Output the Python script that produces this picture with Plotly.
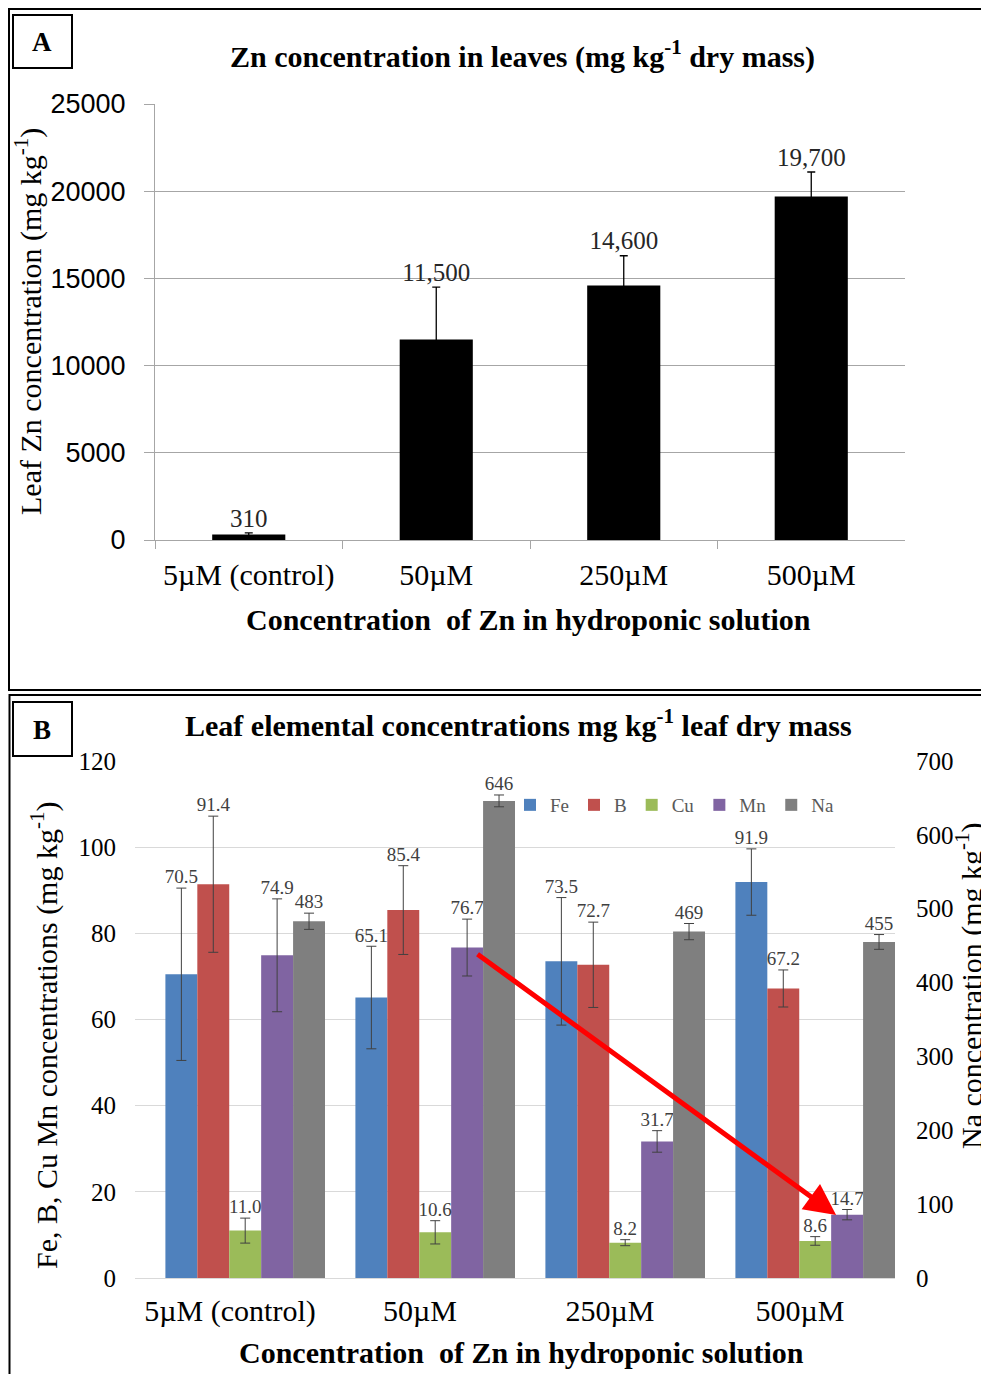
import plotly.graph_objects as go

# ---------------- data ----------------
categories = ["5µM (control)", "50µM", "250µM", "500µM"]

# Panel A: leaf Zn
zn_leaf = [310, 11500, 14600, 19700]
zn_err = [100, 3000, 1700, 1400]
zn_labels = ["310", "11,500", "14,600", "19,700"]

# Panel B: leaf elements (Fe, B, Cu, Mn on left axis; Na on right axis)
elements = ["Fe", "B", "Cu", "Mn", "Na"]
fe = [70.5, 65.1, 73.5, 91.9]
fe_err = [20.0, 11.9, 14.8, 7.7]
b = [91.4, 85.4, 72.7, 67.2]
b_err = [15.8, 10.3, 9.9, 4.3]
cu = [11.0, 10.6, 8.2, 8.6]
cu_err = [2.9, 2.7, 0.7, 1.0]
mn = [74.9, 76.7, 31.7, 14.7]
mn_err = [13.1, 6.6, 2.5, 1.2]
na = [483, 646, 469, 455]
na_err = [11, 8, 11, 10]

colors = {"Fe": "#4F81BD", "B": "#C0504D", "Cu": "#9BBB59", "Mn": "#8064A2", "Na": "#7F7F7F"}

W, H = 989, 1374
OFF = 8  # page body margin: the figure div starts 8px in from the window corner
SERIF = "Liberation Serif, Times New Roman, serif"
SANS = "Liberation Sans, Arial, sans-serif"


def px_x(p):
    return (p - OFF) / W


def px_y(p):
    return 1 - (p - OFF) / H


fig = go.Figure()

# ---------------- Panel A ----------------
fig.add_trace(go.Bar(
    x=categories, y=zn_leaf, width=0.39,
    marker=dict(color="black", line=dict(width=0)),
    error_y=dict(type="data", array=zn_err, color="black", thickness=1.3, width=4),
    xaxis="x", yaxis="y", showlegend=False, hoverinfo="x+y",
))
fig.add_trace(go.Scatter(
    x=categories, y=[v + e for v, e in zip(zn_leaf, zn_err)],
    mode="text", text=zn_labels, textposition="top center",
    textfont=dict(family=SERIF, size=25, color="#262626"),
    xaxis="x", yaxis="y", showlegend=False, hoverinfo="skip",
))

# ---------------- Panel B ----------------
series = [
    ("Fe", fe, fe_err, "y2"),
    ("B", b, b_err, "y2"),
    ("Cu", cu, cu_err, "y2"),
    ("Mn", mn, mn_err, "y2"),
    ("Na", na, na_err, "y3"),
]
bar_w = 0.168
start = 0.5 - bar_w * len(series)   # groups end at the right edge of each category slot
xs = list(range(len(categories)))
for i, (name, vals, errs, yax) in enumerate(series):
    off = start + i * bar_w
    fig.add_trace(go.Bar(
        name=name, x=xs, y=vals, width=bar_w, offset=off,
        marker=dict(color=colors[name], line=dict(width=0)),
        error_y=dict(type="data", array=errs, color="#404040", thickness=1, width=5),
        xaxis="x2", yaxis=yax, showlegend=True,
    ))
for i, (name, vals, errs, yax) in enumerate(series):
    off = start + i * bar_w
    fmt = "{:.0f}" if name == "Na" else "{:.1f}"
    fig.add_trace(go.Scatter(
        x=[x + off + bar_w / 2 for x in xs],
        y=[v + e for v, e in zip(vals, errs)],
        mode="text", text=[fmt.format(v) for v in vals], textposition="top center",
        textfont=dict(family=SERIF, size=19, color="#404040"),
        xaxis="x2", yaxis=yax, showlegend=False, hoverinfo="skip",
    ))

# ---------------- layout ----------------
grid_a = "#A6A6A6"
grid_b = "#D9D9D9"

layout = dict(
    width=W, height=H, autosize=False,
    margin=dict(l=0, r=0, t=0, b=0, autoexpand=False),
    paper_bgcolor="white", plot_bgcolor="white",
    barmode="overlay",
    font=dict(family=SERIF, color="black"),
    xaxis=dict(
        domain=[px_x(155), px_x(905)], anchor="y",
        type="category", tickson="boundaries",
        ticks="outside", ticklen=8, tickcolor=grid_a, tickwidth=1,
        showline=True, linecolor=grid_a, linewidth=1,
        showgrid=False,
        tickfont=dict(family=SERIF, size=30, color="black"),
        ticklabelstandoff=8,
        range=[-0.5, 3.5], automargin=False,
    ),
    yaxis=dict(
        domain=[px_y(540), px_y(104)], anchor="x",
        range=[0, 25000], dtick=5000, tickformat="d",
        ticks="outside", ticklen=10, tickcolor=grid_a, tickwidth=1,
        showline=True, linecolor=grid_a, linewidth=1,
        showgrid=True, gridcolor=grid_a, gridwidth=1,
        zeroline=False,
        tickfont=dict(family=SANS, size=27, color="black"),
        ticklabelstandoff=13, automargin=False,
    ),
    xaxis2=dict(
        domain=[px_x(135), px_x(895)], anchor="y2",
        range=[-0.5, 3.5], tickvals=xs, ticktext=categories,
        ticks="", showline=False, showgrid=False, zeroline=False,
        tickfont=dict(family=SERIF, size=30, color="black"),
        ticklabelstandoff=12, automargin=False,
    ),
    yaxis2=dict(
        domain=[px_y(1278), px_y(761)], anchor="x2",
        range=[0, 120], dtick=20,
        ticks="", showline=False,
        showgrid=True, gridcolor=grid_b, gridwidth=1,
        zeroline=True, zerolinecolor=grid_b, zerolinewidth=1,
        tickfont=dict(family=SERIF, size=25, color="black"),
        ticklabelstandoff=18, automargin=False,
    ),
    yaxis3=dict(
        overlaying="y2", side="right", anchor="x2",
        range=[0, 700], dtick=100,
        ticks="", showline=False, showgrid=False, zeroline=False,
        tickfont=dict(family=SERIF, size=25, color="black"),
        ticklabelstandoff=20, automargin=False,
    ),
    legend=dict(
        orientation="h", x=px_x(510), xanchor="left",
        y=px_y(805), yanchor="middle",
        font=dict(family=SERIF, size=19, color="#595959"),
        bgcolor="rgba(0,0,0,0)", itemwidth=30, tracegroupgap=0,
        traceorder="normal",
    ),
)

frame = dict(color="black", width=2)
shapes = [
    # panel A frame
    dict(type="rect", xref="paper", yref="paper",
         x0=px_x(9), x1=px_x(1010), y0=px_y(690), y1=px_y(9), line=frame),
    # panel B frame
    dict(type="rect", xref="paper", yref="paper",
         x0=px_x(9.5), x1=px_x(1010), y0=px_y(1400), y1=px_y(695), line=frame),
    # label boxes
    dict(type="rect", xref="paper", yref="paper",
         x0=px_x(13), x1=px_x(72), y0=px_y(68), y1=px_y(15), line=frame),
    dict(type="rect", xref="paper", yref="paper",
         x0=px_x(13), x1=px_x(72), y0=px_y(756), y1=px_y(702), line=frame),
]


def note(text, x, y, size, angle=0):
    return dict(text=text, x=px_x(x), y=px_y(y), xref="paper", yref="paper",
                xanchor="center", yanchor="middle", showarrow=False, textangle=angle,
                font=dict(family=SERIF, size=size, color="black"))


annotations = [
    note("<b>A</b>", 42, 42, 27),
    note("<b>B</b>", 42, 730, 27),
    note("<b>Zn concentration in leaves (mg kg<sup>-1</sup> dry mass)</b>", 522, 55, 30),
    note("Leaf Zn concentration (mg kg<sup>-1</sup>)", 28, 322, 30, -90),
    note("<b>Concentration  of Zn in hydroponic solution</b>", 528, 620, 30),
    note("<b>Leaf elemental concentrations mg kg<sup>-1</sup> leaf dry mass</b>", 518, 723, 30),
    note("Fe, B, Cu Mn concentrations (mg kg<sup>-1</sup>)", 44, 1036, 30, -90),
    note("Na concentration (mg kg<sup>-1</sup>)", 969, 986, 30, -90),
    note("<b>Concentration  of Zn in hydroponic solution</b>", 521, 1352, 30),
    # red arrow highlighting the Mn decline
    dict(text="", x=3.19, y=14.6, xref="x2", yref="y2",
         ax=1.295, ay=75.4, axref="x2", ayref="y2",
         showarrow=True, arrowhead=2, arrowsize=1.25, arrowwidth=5,
         arrowcolor="#FF0000", standoff=0),
]

layout["shapes"] = shapes
layout["annotations"] = annotations
fig.update_layout(**layout)

fig.write_html("out.html")
